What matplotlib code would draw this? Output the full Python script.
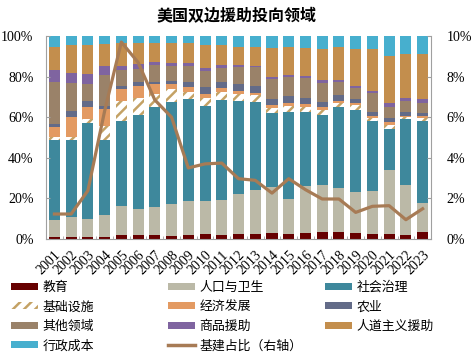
import matplotlib
matplotlib.use("Agg")
import matplotlib.pyplot as plt
import numpy as np
from matplotlib.patches import Patch
from matplotlib.lines import Line2D
from matplotlib.ticker import FixedLocator

plt.rcParams['font.family'] = ['Noto Sans CJK SC', 'DejaVu Sans']
plt.rcParams['hatch.linewidth'] = 1.8

years = [str(y) for y in range(2001, 2024)]

edu    = [1.0, 1.0, 1.0, 1.0, 1.8, 1.8, 1.8, 1.5, 1.8, 2.3, 2.0, 2.3, 2.3, 3.0, 2.3, 3.0, 3.4, 3.4, 3.0, 2.5, 2.5, 2.0, 3.4]
pop    = [8.5, 9.7, 9.0, 10.8, 14.4, 13.1, 13.8, 15.9, 17.1, 16.2, 17.3, 20.0, 21.6, 22.4, 17.4, 22.9, 23.3, 21.8, 20.1, 20.9, 31.3, 24.4, 14.3]
gov    = [39.4, 38.2, 46.9, 37.1, 42.0, 46.2, 49.2, 50.3, 50.1, 47.1, 49.2, 45.7, 43.8, 36.6, 42.9, 36.9, 34.4, 40.0, 40.5, 34.5, 20.5, 32.6, 40.2]
infra  = [1.3, 1.3, 2.1, 6.8, 9.8, 8.6, 6.5, 6.2, 3.6, 3.7, 4.1, 3.3, 3.0, 2.4, 3.0, 2.4, 2.2, 1.7, 2.3, 1.9, 1.9, 1.0, 1.6]
econ   = [4.9, 9.8, 6.2, 8.4, 5.9, 5.9, 4.9, 2.5, 2.5, 2.2, 1.7, 1.7, 1.3, 1.5, 1.4, 1.4, 1.6, 1.3, 1.3, 0.9, 1.3, 0.8, 1.2]
agri   = [1.6, 3.1, 2.8, 1.6, 1.7, 1.6, 1.0, 1.6, 2.4, 3.3, 3.2, 3.2, 3.4, 3.1, 3.5, 3.1, 2.8, 2.6, 1.7, 2.1, 2.0, 1.7, 1.6]
other  = [20.8, 13.6, 8.2, 15.1, 7.5, 6.6, 8.4, 7.2, 7.7, 8.2, 6.9, 8.4, 9.2, 9.9, 9.2, 9.5, 9.0, 6.7, 5.7, 9.3, 5.7, 5.5, 4.6]
comm   = [5.8, 4.9, 4.9, 4.4, 2.3, 2.3, 1.8, 1.4, 1.4, 1.1, 1.3, 1.3, 0.6, 1.1, 1.1, 1.3, 1.7, 0.9, 0.8, 0.9, 2.0, 1.3, 2.0]
human  = [11.5, 13.8, 14.6, 10.7, 11.2, 10.3, 9.3, 10.0, 10.1, 11.5, 9.9, 8.9, 9.6, 14.3, 14.0, 13.8, 15.0, 16.0, 18.0, 20.4, 23.0, 21.8, 22.1]
admin  = [5.2, 4.6, 4.3, 4.1, 3.4, 3.6, 3.3, 3.4, 3.3, 4.4, 4.4, 5.2, 5.2, 5.7, 5.2, 5.7, 6.6, 5.6, 6.6, 6.6, 9.8, 8.9, 9.0]
infra_share = [1.23, 1.23, 2.38, 6.3, 9.7, 8.7, 6.85, 6.0, 3.5, 3.7, 3.74, 2.97, 2.89, 2.26, 2.97, 2.43, 1.97, 1.97, 1.31, 1.61, 1.64, 0.95, 1.49]

series = [
    ("教育", edu, '#660000', None),
    ("人口与卫生", pop, '#BBB9A7', None),
    ("社会治理", gov, '#3E889C', None),
    ("基础设施", infra, 'white', '#C4A265'),
    ("经济发展", econ, '#E39A62', None),
    ("农业", agri, '#636B88', None),
    ("其他领域", other, '#9A8269', None),
    ("商品援助", comm, '#7F64A0', None),
    ("人道主义援助", human, '#C38E4D', None),
    ("行政成本", admin, '#47AFCE', None),
]
line_color = '#A77B55'
axis_color = '#A0A0A0'

fig = plt.figure(figsize=(4.73, 3.55), dpi=100)
ax = fig.add_axes([0.0973, 0.3268, 0.8139, 0.5718])
x = np.arange(len(years))
bottom = np.zeros(len(years))
handles = {}
for name, vals, color, hcol in series:
    v = np.array(vals)
    if hcol is not None:
        ax.bar(x, v, 0.66, bottom=bottom, color='white', edgecolor=hcol, linewidth=0, hatch='///')
        handles[name] = Patch(facecolor='white', edgecolor=hcol, linewidth=0, hatch='///')
    else:
        ax.bar(x, v, 0.66, bottom=bottom, color=color, linewidth=0)
        handles[name] = Patch(facecolor=color, linewidth=0)
    bottom += v

ax.set_xlim(-0.5, len(years) - 0.5)
ax.set_ylim(0, 100)
ax.set_yticks(np.arange(0, 101, 20))
ax.set_yticklabels([f"{v}%" for v in range(0, 101, 20)], family='Liberation Serif', fontsize=10)
ax.set_xticks(x)
ax.set_xticklabels(years, rotation=45, ha='right', va='top', rotation_mode='anchor',
                   family='Liberation Serif', fontsize=10)
ax.tick_params(axis='x', which='major', length=0, pad=7)
ax.xaxis.set_minor_locator(FixedLocator(np.arange(-0.5, len(years), 1.0)))
ax.tick_params(axis='x', which='minor', direction='in', length=2, color=axis_color)
ax.tick_params(axis='y', direction='in', length=3, color=axis_color, pad=9)
for s in ['top', 'right']:
    ax.spines[s].set_visible(False)
for s in ['left', 'bottom']:
    ax.spines[s].set_color(axis_color)

ax2 = ax.twinx()
ax2.plot(x, infra_share, color=line_color, lw=2.3, solid_joinstyle='round')
ax2.set_ylim(0, 10)
ax2.set_yticks(np.arange(0, 11, 2))
ax2.set_yticklabels([f"{v}%" for v in range(0, 11, 2)], family='Liberation Serif', fontsize=10)
ax2.tick_params(axis='y', direction='in', length=3, color=axis_color, pad=11)
for s in ['top', 'left', 'bottom']:
    ax2.spines[s].set_visible(False)
ax2.spines['right'].set_color(axis_color)

fig.text(0.501, 0.955, "美国双边援助投向领域", ha='center', va='center', fontsize=11.5, fontweight='bold')

handles["基建占比（右轴）"] = Line2D([0], [0], color=line_color, lw=2.5)
cols = [["教育", "基础设施", "其他领域", "行政成本"],
        ["人口与卫生", "经济发展", "商品援助", "基建占比（右轴）"],
        ["社会治理", "农业", "人道主义援助"]]
xs = [11 / 473, 168 / 473, 325 / 473]
for cx, names in zip(xs, cols):
    leg = fig.legend([handles[n] for n in names], names, loc='upper left',
                     bbox_to_anchor=(cx, 1 - 281 / 355), frameon=False, fontsize=9.3,
                     borderpad=0, borderaxespad=0, handlelength=2.1, handleheight=0.45,
                     handletextpad=0.35, labelspacing=0.5)

fig.savefig("out.png", dpi=100)
